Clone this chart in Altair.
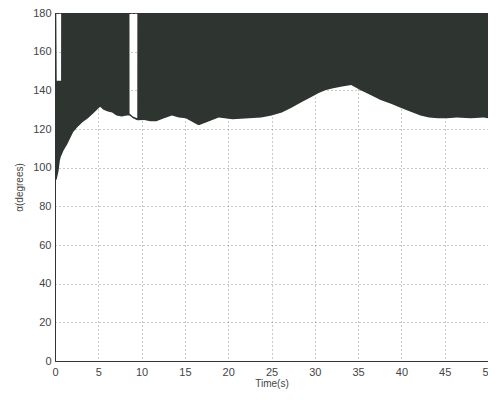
import altair as alt
import pandas as pd

# time (s), lower envelope (deg), upper envelope (deg)
t_vals = [0.0, 0.15, 0.2, 0.4, 0.57, 0.7, 0.71, 1.0, 1.4, 2.1, 2.6, 3.2, 3.8, 4.4, 5.2, 5.6, 6.1, 6.6,
          7.1, 7.7, 8.3, 8.6, 8.61, 9.0, 9.5, 9.51, 10.3, 11.0, 11.7, 12.6, 13.5, 14.3, 15.1,
          16.3, 16.6, 17.8, 18.9, 20.5, 22.4, 23.8, 25.0, 26.2, 27.3, 28.5, 29.6, 30.4, 31.2,
          32.0, 33.0, 34.2, 35.3, 36.5, 37.6, 38.8, 39.9, 41.0, 42.2, 43.2, 44.2, 45.3,
          46.4, 48.0, 49.5, 50.0]
lower = [95, 93.6, 94, 98, 104, 106, 106, 109, 112, 118.5, 121, 123.6, 125.5, 128, 131.5, 130, 129, 128.5,
         127, 126.5, 127, 127, 127, 125.5, 124.5, 124.5, 124.6, 124, 124, 125.5, 127, 126, 125.5,
         122.6, 122, 124, 126, 125, 125.5, 126, 127, 128.5, 131, 134, 136.6, 138.5, 140,
         141, 141.8, 142.8, 140, 137.5, 135, 133, 131, 129, 127, 126, 125.5, 125.5,
         126, 125.5, 126, 125.5]
upper = [180, 180, 145, 145, 145, 145, 180, 180, 180, 180, 180, 180, 180, 180, 180, 180, 180, 180,
         180, 180, 180, 180, 128, 126.5, 125.5, 180, 180, 180, 180, 180, 180, 180, 180,
         180, 180, 180, 180, 180, 180, 180, 180, 180, 180, 180, 180, 180, 180,
         180, 180, 180, 180, 180, 180, 180, 180, 180, 180, 180, 180, 180,
         180, 180, 180, 180]

x_ticks = [0, 5, 10, 15, 20, 25, 30, 35, 40, 45, 50]
y_ticks = [0, 20, 40, 60, 80, 100, 120, 140, 160, 180]

df = pd.DataFrame({"t": t_vals, "lo": lower, "hi": upper})

FONT = "Liberation Sans"

x_enc = alt.X("t:Q", scale=alt.Scale(domain=[0, 50], nice=False),
              axis=alt.Axis(values=x_ticks, title="Time(s)", grid=True, tickSize=0,
                            labelPadding=5, titlePadding=1, labelFlush=False))
y_enc = alt.Y("lo:Q", scale=alt.Scale(domain=[0, 180], nice=False),
              axis=alt.Axis(values=y_ticks, title="α(degrees)", grid=True, tickSize=0,
                            labelPadding=4, titlePadding=8, labelFlush=False))

area = alt.Chart(df).mark_area(color="#2e342f", opacity=1, interpolate="linear").encode(
    x=x_enc, y=y_enc, y2="hi:Q"
)

chart = area.properties(
    width=433, height=348,
    autosize=alt.AutoSizeParams(type="none"),
    padding={"left": 47, "top": 5, "right": 0, "bottom": 30},
    background="white",
).configure_view(
    stroke="#333333", strokeWidth=1
).configure_axis(
    gridColor="#888888", gridDash=[1, 3], gridWidth=1, gridOpacity=0.9,
    domainColor="#333333", labelColor="#444444", titleColor="#444444",
    labelFont=FONT, titleFont=FONT, labelFontSize=11, titleFontSize=10,
    titleFontWeight="normal",
)

chart.save("out.html", embed_options={"renderer": "svg", "actions": False})
